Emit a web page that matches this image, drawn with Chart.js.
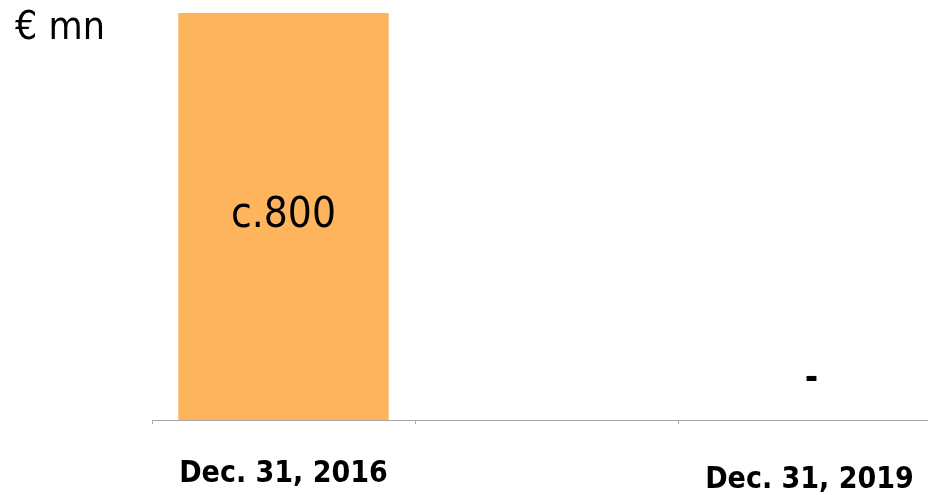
<!DOCTYPE html>
<html>
<head>
<meta charset="utf-8">
<script src="https://cdn.jsdelivr.net/npm/chart.js@4/dist/chart.umd.min.js"></script>
<style>
  html, body { margin: 0; padding: 0; background: #ffffff; overflow: hidden; }
  #wrap { width: 941px; height: 495px; }
</style>
</head>
<body>
<div id="wrap"><canvas id="chart"></canvas></div>
<script>
// Reporting dates (the middle slot is an empty spacer)
const categories = ["Dec. 31, 2016", "", "Dec. 31, 2019"];
// Amounts in € mn
const amounts = [800, null, 0];
const unitLabel = "€ mn";
const approxPrefix = "c.";

const FONT = "'DejaVu Sans Condensed', 'DejaVu Sans', sans-serif";

// Draws the value inside each bar, or a dash when the amount is nil
const valueLabels = {
  id: 'valueLabels',
  afterDatasetsDraw(chart) {
    const ctx = chart.ctx;
    const meta = chart.getDatasetMeta(0);
    ctx.save();
    ctx.fillStyle = '#000000';
    ctx.textAlign = 'center';
    ctx.textBaseline = 'middle';
    meta.data.forEach((bar, i) => {
      const v = amounts[i];
      if (v === null || v === undefined) return;
      if (v > 0) {
        ctx.font = "42px " + FONT;
        ctx.fillText(approxPrefix + v, bar.x, (bar.y + bar.base) / 2);
      } else {
        ctx.font = "bold 36px " + FONT;
        ctx.fillText("-", bar.x + 2, bar.base - 40);
      }
    });
    ctx.restore();
  }
};

// Unit caption in the top-left corner
const unitCaption = {
  id: 'unitCaption',
  afterDraw(chart) {
    const ctx = chart.ctx;
    ctx.save();
    ctx.fillStyle = '#000000';
    ctx.font = "39px " + FONT;
    ctx.textAlign = 'left';
    ctx.textBaseline = 'middle';
    ctx.fillText(unitLabel, 15, 29);
    ctx.restore();
  }
};

new Chart(document.getElementById('chart'), {
  type: 'bar',
  data: {
    labels: categories,
    datasets: [{
      data: amounts,
      backgroundColor: '#FDB45C',
      borderWidth: 0,
      barPercentage: 0.8,
      categoryPercentage: 1.0
    }]
  },
  options: {
    responsive: true,
    maintainAspectRatio: false,
    animation: false,
    layout: { padding: { left: 152, top: 13, right: 0, bottom: 0 } },
    plugins: {
      legend: { display: false },
      tooltip: { enabled: false }
    },
    scales: {
      x: {
        offset: true,
        grid: {
          display: true,
          offset: true,
          drawOnChartArea: false,
          drawTicks: true,
          tickLength: 4,
          color: '#a6a6a6'
        },
        border: { display: true, color: '#a6a6a6', width: 1 },
        ticks: {
          color: '#000000',
          padding: 32,
          maxRotation: 0,
          autoSkip: false,
          font: (ctx) => ({
            family: FONT,
            size: 30,
            weight: 'bold',
            lineHeight: ctx.index === 2 ? 1.6 : 1.2
          })
        },
        afterFit(scale) {
          scale.height = 75;
          // labels fit inside the canvas, so no extra side padding is needed
          scale.paddingLeft = 0;
          scale.paddingRight = 0;
        }
      },
      y: {
        display: false,
        min: 0,
        max: 800
      }
    }
  },
  plugins: [valueLabels, unitCaption]
});
</script>
</body>
</html>
